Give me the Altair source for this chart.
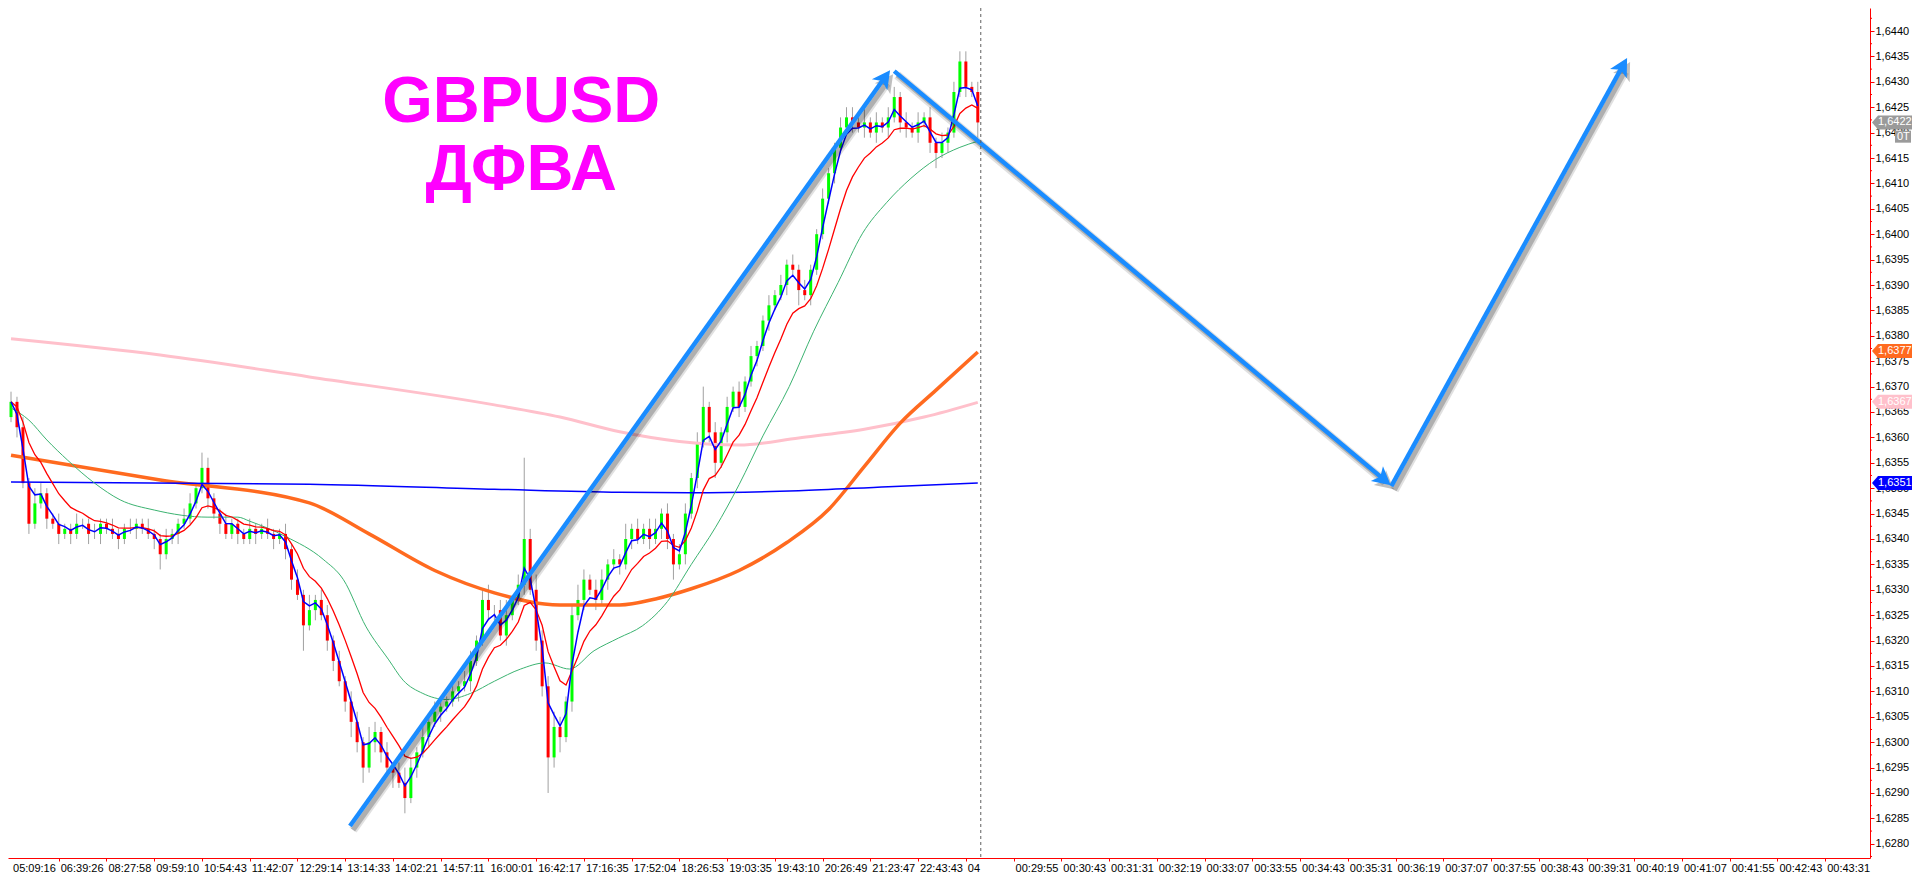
import math
import altair as alt
import pandas as pd

# ---------------- layout ----------------
W, H = 1862, 850
X0, X1 = 0.333, 310.667          # bar-index domain
P_TOP, P_BOT = 1.644453, 1.627720  # price domain

# ---------------- data ----------------
first_open_pips = 364
closes_pips = [
    367, 362, 351, 343, 347, 349, 344, 343, 341, 342,
    341, 343, 343, 341, 341, 343, 342, 341, 340, 342,
    342, 343, 342, 341, 340, 337, 340, 341, 343, 344,
    347, 350, 354, 348, 345, 343, 341, 343, 341, 340,
    342, 341, 342, 341, 340, 341, 338, 332, 329, 323,
    326, 328, 325, 320, 316, 312, 308, 304, 300, 295,
    300, 302, 298, 295, 294, 292, 289, 295, 298, 301,
    304, 306, 307, 308, 310, 311, 312, 316, 320, 328,
    326, 326, 321, 325, 328, 331, 340, 330, 320, 311,
    297, 303, 301, 308, 325, 328, 332, 330, 328, 332,
    335, 336, 335, 340, 342, 340, 342, 340, 342, 345,
    340, 335, 337, 345, 352, 359, 366, 361, 355, 361,
    366, 369, 366, 371, 376, 378, 383, 386, 388, 390,
    394, 393, 389, 388, 393, 400, 407, 412, 417, 421,
    423, 422, 421, 422, 420, 422, 421, 423, 427, 422,
    421, 420, 422, 423, 418, 416, 418, 420, 428, 434,
    429, 428, 422]
up_wick = [
    2, 1, 2, 1, 3, 2, 1, 1, 2, 1,
    1, 2, 1, 1, 2, 1, 1, 2, 1, 1,
    2, 1, 1, 2, 1, 1, 2, 1, 1, 2,
    2, 1, 3, 2, 1, 1, 2, 1, 1, 1,
    2, 1, 1, 2, 1, 1, 2, 1, 2, 1,
    3, 1, 2, 2, 1, 2, 1, 2, 2, 1,
    3, 2, 1, 2, 1, 2, 3, 2, 1, 2,
    1, 2, 1, 1, 2, 1, 2, 2, 1, 2,
    3, 1, 2, 3, 1, 2, 16, 2, 3, 2,
    2, 3, 2, 1, 2, 3, 2, 1, 2, 2,
    1, 2, 1, 3, 1, 2, 1, 2, 2, 1,
    2, 1, 2, 2, 1, 2, 4, 1, 2, 1,
    2, 1, 2, 1, 2, 1, 1, 2, 1, 2,
    1, 2, 1, 2, 1, 1, 2, 1, 1, 2,
    2, 2, 1, 3, 1, 2, 1, 2, 2, 1,
    2, 1, 2, 1, 2, 1, 2, 1, 2, 2,
    2, 1, 2]
down_wick = [
    1, 2, 1, 2, 1, 1, 2, 1, 2, 1,
    2, 1, 1, 2, 1, 2, 1, 1, 2, 1,
    1, 2, 1, 1, 2, 3, 1, 1, 2, 1,
    1, 1, 1, 2, 1, 2, 1, 1, 2, 1,
    1, 2, 1, 1, 2, 1, 2, 2, 1, 5,
    1, 2, 1, 2, 2, 1, 2, 3, 2, 3,
    1, 2, 2, 1, 3, 1, 3, 1, 2, 1,
    2, 1, 2, 1, 1, 2, 1, 2, 1, 1,
    2, 2, 1, 2, 1, 1, 2, 1, 2, 2,
    7, 2, 3, 1, 2, 1, 2, 1, 2, 1,
    2, 1, 2, 1, 2, 1, 1, 2, 1, 2,
    2, 3, 1, 2, 1, 2, 1, 2, 3, 1,
    2, 1, 2, 1, 1, 2, 1, 2, 1, 1,
    2, 1, 3, 1, 2, 1, 1, 1, 2, 1,
    1, 2, 1, 2, 1, 2, 1, 2, 1, 2,
    2, 1, 2, 1, 2, 3, 1, 2, 1, 1,
    2, 1, 3]

green_bar = [0, 3, 6, 9.5, 14, 18.3, 24, 33, 38, 40, 46, 52.3, 55.7, 59.5, 63.3, 65.7, 69, 73,
             77, 81, 85.4, 89.5, 93.6, 97.7, 101.8, 105.8, 110, 114, 118, 122, 126, 130.4,
             134.5, 138.6, 142.7, 146.7, 150.8, 154.9, 159, 162]
green_pips = [365.8, 363.4, 359.5, 355.5, 351, 347.7, 345.7, 344.3, 344.3, 343.5, 340.5, 336, 332,
              322.7, 316.2, 312.2, 309.6, 308.4, 309.6, 312, 314.4, 315.6, 314.4, 318, 320.5,
              322.9, 327.7, 335, 342.2, 350.7, 360.3, 370, 380.9, 390.5, 400.2, 406.2, 411,
              414.7, 417.1, 418.3]
orange_bar = [0, 25, 50, 60, 71, 81, 92, 102, 108, 114, 122, 130, 137, 143, 149, 155, 162]
orange_pips = [356.5, 351.6, 347.1, 341, 333.8, 329.4, 327, 327, 328.2, 330.2, 333.8, 339.3,
               345.8, 354.3, 362.8, 369.3, 376.8]
pink_bar = [0, 25, 50, 81, 92, 102, 112, 122, 132, 143, 153, 162]
pink_pips = [379.4, 376.2, 371.9, 366.4, 364, 361.1, 359.2, 358.5, 359.9, 361.6, 364, 366.9]
flat_bar = [0, 50, 81, 102, 114, 132, 147, 162]
flat_pips = [351.2, 350.8, 349.8, 349.2, 349.1, 349.5, 350.3, 351.0]

time_labels = ["05:09:16", "06:39:26", "08:27:58", "09:59:10", "10:54:43", "11:42:07",
               "12:29:14", "13:14:33", "14:02:21", "14:57:11", "16:00:01", "16:42:17",
               "17:16:35", "17:52:04", "18:26:53", "19:03:35", "19:43:10", "20:26:49",
               "21:23:47", "22:43:43", "04", "00:29:55", "00:30:43", "00:31:31", "00:32:19",
               "00:33:07", "00:33:55", "00:34:43", "00:35:31", "00:36:19", "00:37:07",
               "00:37:55", "00:38:43", "00:39:31", "00:40:19", "00:41:07", "00:41:55",
               "00:42:43", "00:43:31"]
bars_per_label = 8

separator_bar = [162.5]

title_lines = ["GBPUSD", "ДФВА"]
title_bar = [85.5, 85.5]
title_price = [1.64221, 1.64087]

arrow_bar0 = [56.8, 148.0, 231.3]
arrow_price0 = [1.62835, 1.64321, 1.63504]
arrow_bar1 = [147.3, 231.2, 270.8]
arrow_price1 = [1.64323, 1.63506, 1.64347]

tag_price = [1.6422, 1.6377, 1.6367, 1.6351]
tag_text = ["1,6422", "1,6377", "1,6367", "1,6351"]
tag_fill = ["#9A9A9A", "#FF6A1F", "#FFC0CB", "#0000FF"]
small_tag_price = [1.64192]
small_tag_text = ["0T"]

# ---------------- build tables ----------------
def p(v):
    return 1.6 + v / 10000.0

rows = []
prev = first_open_pips
for i, c in enumerate(closes_pips):
    o = prev
    hi = max(o, c) + up_wick[i]
    lo = min(o, c) - down_wick[i]
    d = "up" if c > o else ("down" if c < o else "flat")
    rows.append({"bar": i, "o": p(o), "c": p(c), "h": p(hi), "l": p(lo), "dir": d})
    prev = c
candles = pd.DataFrame(rows)

close_series = pd.Series([p(v) for v in closes_pips])
fast_df = pd.DataFrame({"bar": range(len(closes_pips)),
                        "price": close_series.ewm(span=3, adjust=False).mean()})
red_df = pd.DataFrame({"bar": range(len(closes_pips)),
                       "price": close_series.ewm(span=9, adjust=False).mean()})
green_df = pd.DataFrame({"bar": green_bar, "price": [p(v) for v in green_pips]})
orange_df = pd.DataFrame({"bar": orange_bar, "price": [p(v) for v in orange_pips]})
pink_df = pd.DataFrame({"bar": pink_bar, "price": [p(v) for v in pink_pips]})
flat_df = pd.DataFrame({"bar": flat_bar, "price": [p(v) for v in flat_pips]})

labels_df = pd.DataFrame({"bar": [k * bars_per_label for k in range(len(time_labels))],
                          "label": time_labels})
x_ticks = [k * bars_per_label for k in range(1, len(time_labels))]
y_ticks = [round(1.6280 + 0.0005 * k, 4) for k in range(33)]
y_minor = pd.DataFrame({"price": [round(1.62775 + 0.0005 * k, 5) for k in range(34)
                                  if 1.62775 + 0.0005 * k < P_TOP]})

ppb = W / (X1 - X0)
ppu = H / (P_TOP - P_BOT)
arows = []
for b0, p0, b1, p1 in zip(arrow_bar0, arrow_price0, arrow_bar1, arrow_price1):
    dx = (b1 - b0) * ppb
    dy = -(p1 - p0) * ppu
    L = math.hypot(dx, dy)
    ang = math.degrees(math.atan2(dx, -dy)) % 360
    back = 11.0
    arows.append({"b0": b0, "p0": p0, "b1": b1, "p1": p1,
                  "be": b1 - back * dx / L / ppb, "pe": p1 + back * dy / L / ppu,
                  "ang": ang})
arrows = pd.DataFrame(arows)

titles = pd.DataFrame({"bar": title_bar, "price": title_price, "text": title_lines})
sep_df = pd.DataFrame({"bar": separator_bar})
tags = pd.DataFrame({"price": tag_price, "label": tag_text, "fill": tag_fill})
small_tags = pd.DataFrame({"price": small_tag_price, "label": small_tag_text})

# ---------------- scales / axes ----------------
FONT = "Liberation Sans"
xscale = alt.Scale(domain=[X0, X1], nice=False, zero=False)
yscale = alt.Scale(domain=[P_BOT, P_TOP], nice=False, zero=False)
xaxis = alt.Axis(values=x_ticks, labels=False, ticks=True, tickSize=3, tickColor="#FF0000",
                 domainColor="#FF0000", domainWidth=1, grid=False, title=None)
yaxis = alt.Axis(orient="right", values=y_ticks, tickSize=4, tickColor="#FF0000",
                 domainColor="#FF0000", domainWidth=1, grid=False, title=None,
                 labelFont=FONT, labelFontSize=11, labelColor="#000000", labelPadding=1,
                 labelExpr="replace(format(datum.value, '.4f'), '.', ',')")


def X(f):
    return alt.X(f, type="quantitative", scale=xscale, axis=xaxis)


def Y(f):
    return alt.Y(f, type="quantitative", scale=yscale, axis=yaxis)


# ---------------- layers ----------------
wicks = alt.Chart(candles).mark_rule(color="#A0A0A0", strokeWidth=1, clip=True).encode(
    x=X("bar"), y=Y("l"), y2="h")
bodies = alt.Chart(candles).mark_bar(width=3, clip=True).encode(
    x=X("bar"), y=Y("o"), y2="c",
    color=alt.Color("dir:N", scale=alt.Scale(domain=["up", "down", "flat"],
                                             range=["#00FF00", "#FF0000", "#A0A0A0"]),
                    legend=None))


def line(df, color, width, smooth=False):
    kw = {"interpolate": "monotone"} if smooth else {}
    return alt.Chart(df).mark_line(color=color, strokeWidth=width, clip=True, **kw).encode(
        x=X("bar"), y=Y("price"))


pink_l = line(pink_df, "#FFC0CB", 3, True)
orange_l = line(orange_df, "#FF6A1F", 3.5, True)
flat_l = line(flat_df, "#0000FF", 1.5, True)
green_l = line(green_df, "#3CB371", 1, True)
red_l = line(red_df, "#FF0000", 1.3)
fast_l = line(fast_df, "#0000FF", 1.5)

ARROW = "#1A8CFF"
HEAD = "M0,0 L9.5,18 L0,13.5 L-9.5,18 Z"
shadow1 = alt.Chart(arrows).mark_rule(color="#000000", opacity=0.12, strokeWidth=9,
                                      xOffset=3, yOffset=4, x2Offset=3, y2Offset=4).encode(
    x=X("b0"), y=Y("p0"), x2="be", y2="pe")
shadow2 = alt.Chart(arrows).mark_rule(color="#000000", opacity=0.22, strokeWidth=5,
                                      xOffset=3, yOffset=4, x2Offset=3, y2Offset=4).encode(
    x=X("b0"), y=Y("p0"), x2="be", y2="pe")
head_shadow = alt.Chart(arrows).mark_point(shape=HEAD, size=4, filled=True, color="#000000",
                                           opacity=0.25, strokeWidth=0,
                                           xOffset=3, yOffset=4).encode(
    x=X("b1"), y=Y("p1"), angle=alt.Angle("ang:Q", scale=None))
shaft = alt.Chart(arrows).mark_rule(color=ARROW, strokeWidth=4.5).encode(
    x=X("b0"), y=Y("p0"), x2="be", y2="pe")
head = alt.Chart(arrows).mark_point(shape=HEAD, size=4, filled=True, color=ARROW,
                                    opacity=1, strokeWidth=0).encode(
    x=X("b1"), y=Y("p1"), angle=alt.Angle("ang:Q", scale=None))

title_t = alt.Chart(titles).mark_text(font=FONT, fontSize=65, fontWeight="bold",
                                      color="#FF00FF", align="center",
                                      baseline="alphabetic").encode(
    x=X("bar"), y=Y("price"), text="text:N")

sep = alt.Chart(sep_df).mark_rule(color="#606060", strokeWidth=1, strokeDash=[3, 3]).encode(
    x=X("bar"), y=alt.value(0), y2=alt.value(H))

minor = alt.Chart(y_minor).mark_rule(color="#FF0000", strokeWidth=1).encode(
    y=Y("price"), x=alt.value(W), x2=alt.value(W + 2))

TAG = "M0,0 L6,-7 L40,-7 L40,7 L6,7 Z"
tag_mark = alt.Chart(tags).mark_point(shape=TAG, size=4, filled=True, opacity=1,
                                      strokeWidth=0).encode(
    x=alt.value(W + 2), y=Y("price"), color=alt.Color("fill:N", scale=None))
tag_text_m = alt.Chart(tags).mark_text(font=FONT, fontSize=11, color="#FFFFFF", align="left",
                                       baseline="middle").encode(
    x=alt.value(W + 8), y=Y("price"), text="label:N")
SMALL = "M0,-6 L16,-6 L16,6 L0,6 Z"
small_mark = alt.Chart(small_tags).mark_point(shape=SMALL, size=4, filled=True, opacity=1,
                                              strokeWidth=0, color="#9A9A9A").encode(
    x=alt.value(W + 25), y=Y("price"))
small_text = alt.Chart(small_tags).mark_text(font=FONT, fontSize=11, color="#FFFFFF",
                                             align="left", baseline="middle").encode(
    x=alt.value(W + 27), y=Y("price"), text="label:N")

time_text = alt.Chart(labels_df).mark_text(font=FONT, fontSize=11, color="#000000",
                                           align="left", baseline="alphabetic", dx=2).encode(
    x=X("bar"), y=alt.value(H + 14), text="label:N")

chart = alt.layer(
    wicks, bodies, pink_l, orange_l, flat_l, green_l, red_l, fast_l,
    shadow1, shadow2, head_shadow, shaft, head, title_t, sep, minor,
    tag_mark, tag_text_m, small_mark, small_text, time_text
).properties(
    width=W, height=H,
    autosize=alt.AutoSizeParams(type="none"),
    padding={"left": 0, "top": 0, "right": 42, "bottom": 16},
    background="#FFFFFF",
).configure_view(strokeWidth=0)

chart.save("out.html", embed_options={"renderer": "svg", "actions": False})
